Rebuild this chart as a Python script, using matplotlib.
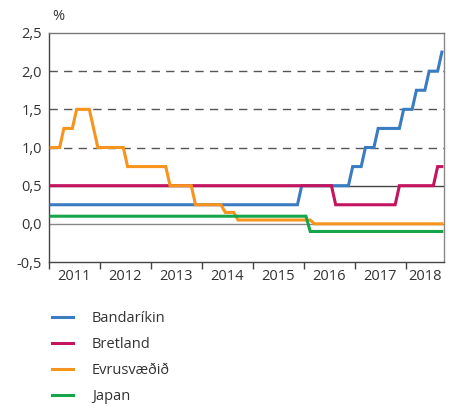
import matplotlib
matplotlib.use("Agg")
import matplotlib.pyplot as plt
import numpy as np

plt.rcParams['font.family'] = ['Open Sans', 'DejaVu Sans']

# Monthly policy rates, Jan 2011 - Sep 2018 (rows = years)
bandarikin = [
    0.25, 0.25, 0.25, 0.25, 0.25, 0.25, 0.25, 0.25, 0.25, 0.25, 0.25, 0.25,
    0.25, 0.25, 0.25, 0.25, 0.25, 0.25, 0.25, 0.25, 0.25, 0.25, 0.25, 0.25,
    0.25, 0.25, 0.25, 0.25, 0.25, 0.25, 0.25, 0.25, 0.25, 0.25, 0.25, 0.25,
    0.25, 0.25, 0.25, 0.25, 0.25, 0.25, 0.25, 0.25, 0.25, 0.25, 0.25, 0.25,
    0.25, 0.25, 0.25, 0.25, 0.25, 0.25, 0.25, 0.25, 0.25, 0.25, 0.25, 0.50,
    0.50, 0.50, 0.50, 0.50, 0.50, 0.50, 0.50, 0.50, 0.50, 0.50, 0.50, 0.75,
    0.75, 0.75, 1.00, 1.00, 1.00, 1.25, 1.25, 1.25, 1.25, 1.25, 1.25, 1.50,
    1.50, 1.50, 1.75, 1.75, 1.75, 2.00, 2.00, 2.00, 2.25,
]
bretland = [
    0.50, 0.50, 0.50, 0.50, 0.50, 0.50, 0.50, 0.50, 0.50, 0.50, 0.50, 0.50,
    0.50, 0.50, 0.50, 0.50, 0.50, 0.50, 0.50, 0.50, 0.50, 0.50, 0.50, 0.50,
    0.50, 0.50, 0.50, 0.50, 0.50, 0.50, 0.50, 0.50, 0.50, 0.50, 0.50, 0.50,
    0.50, 0.50, 0.50, 0.50, 0.50, 0.50, 0.50, 0.50, 0.50, 0.50, 0.50, 0.50,
    0.50, 0.50, 0.50, 0.50, 0.50, 0.50, 0.50, 0.50, 0.50, 0.50, 0.50, 0.50,
    0.50, 0.50, 0.50, 0.50, 0.50, 0.50, 0.50, 0.25, 0.25, 0.25, 0.25, 0.25,
    0.25, 0.25, 0.25, 0.25, 0.25, 0.25, 0.25, 0.25, 0.25, 0.25, 0.50, 0.50,
    0.50, 0.50, 0.50, 0.50, 0.50, 0.50, 0.50, 0.75, 0.75,
]
evrusvaedid = [
    1.00, 1.00, 1.00, 1.25, 1.25, 1.25, 1.50, 1.50, 1.50, 1.50, 1.25, 1.00,
    1.00, 1.00, 1.00, 1.00, 1.00, 1.00, 0.75, 0.75, 0.75, 0.75, 0.75, 0.75,
    0.75, 0.75, 0.75, 0.75, 0.50, 0.50, 0.50, 0.50, 0.50, 0.50, 0.25, 0.25,
    0.25, 0.25, 0.25, 0.25, 0.25, 0.15, 0.15, 0.15, 0.05, 0.05, 0.05, 0.05,
    0.05, 0.05, 0.05, 0.05, 0.05, 0.05, 0.05, 0.05, 0.05, 0.05, 0.05, 0.05,
    0.05, 0.05, 0.00, 0.00, 0.00, 0.00, 0.00, 0.00, 0.00, 0.00, 0.00, 0.00,
    0.00, 0.00, 0.00, 0.00, 0.00, 0.00, 0.00, 0.00, 0.00, 0.00, 0.00, 0.00,
    0.00, 0.00, 0.00, 0.00, 0.00, 0.00, 0.00, 0.00, 0.00,
]
japan = [
    0.10, 0.10, 0.10, 0.10, 0.10, 0.10, 0.10, 0.10, 0.10, 0.10, 0.10, 0.10,
    0.10, 0.10, 0.10, 0.10, 0.10, 0.10, 0.10, 0.10, 0.10, 0.10, 0.10, 0.10,
    0.10, 0.10, 0.10, 0.10, 0.10, 0.10, 0.10, 0.10, 0.10, 0.10, 0.10, 0.10,
    0.10, 0.10, 0.10, 0.10, 0.10, 0.10, 0.10, 0.10, 0.10, 0.10, 0.10, 0.10,
    0.10, 0.10, 0.10, 0.10, 0.10, 0.10, 0.10, 0.10, 0.10, 0.10, 0.10, 0.10,
    0.10, -0.10, -0.10, -0.10, -0.10, -0.10, -0.10, -0.10, -0.10, -0.10, -0.10, -0.10,
    -0.10, -0.10, -0.10, -0.10, -0.10, -0.10, -0.10, -0.10, -0.10, -0.10, -0.10, -0.10,
    -0.10, -0.10, -0.10, -0.10, -0.10, -0.10, -0.10, -0.10, -0.10,
]
years = ["2011", "2012", "2013", "2014", "2015", "2016", "2017", "2018"]
series_names = ["Bandaríkin", "Bretland", "Evrusvæðið", "Japan"]
colors = ["#3a7cc1", "#c4145f", "#f7941d", "#17a54a"]
yticks = [-0.5, 0.0, 0.5, 1.0, 1.5, 2.0, 2.5]

fig = plt.figure(figsize=(4.5, 4.09), dpi=100)
ax = fig.add_axes([49/450, 1-262/409, (444-49)/450, (262-33)/409])

n = len(bandarikin)
x = np.arange(n)
ax.set_xlim(-0.5, n - 0.5)
ax.set_ylim(-0.5, 2.5)

# grid lines
for v in [1.0, 1.5, 2.0]:
    ax.axhline(v, color="#555555", lw=1.0, dashes=(6, 4.5), zorder=1)
ax.axhline(0.5, color="#444444", lw=1.0, zorder=1)
ax.axhline(0.0, color="#888888", lw=1.0, zorder=1)

lines = []
for vals, name, c in zip([bandarikin, bretland, evrusvaedid, japan], series_names, colors):
    l, = ax.plot(x, vals, color=c, lw=2.2, label=name, zorder=3, solid_joinstyle="miter")
    lines.append(l)

# y axis
ax.set_yticks(yticks)
ax.set_yticklabels([("%.1f" % v).replace(".", ",") for v in yticks], fontsize=10.5, color="#333333")
ax.tick_params(axis="y", length=0, pad=5)

# x axis: ticks at year boundaries, labels centered
bounds = [12 * k - 0.5 for k in range(len(years))]
ax.set_xticks(bounds)
ax.set_xticklabels([])
ax.tick_params(axis="x", length=5, width=1.0, color="#444444", direction="out")
for k, yr in enumerate(years):
    start = bounds[k]
    end = min(bounds[k] + 12, n - 0.5)
    ax.text((start + end) / 2, -0.59, yr, ha="center", va="top", fontsize=10.5,
            color="#333333", clip_on=False)

for side, c in [("left", "#444444"), ("bottom", "#444444"), ("top", "#777777"), ("right", "#888888")]:
    ax.spines[side].set_color(c)
    ax.spines[side].set_linewidth(1.0)

fig.text(52/450, 1-16/409, "%", fontsize=10.5, color="#333333", ha="left", va="center")

# legend
leg = fig.legend(handles=lines, loc="upper left", bbox_to_anchor=(46/450, 1-305/409),
                 frameon=False, fontsize=10.5, handlelength=1.45, handletextpad=1.3,
                 labelspacing=0.76, borderaxespad=0)
for t in leg.get_texts():
    t.set_color("#333333")

fig.savefig("out.png", dpi=100)
